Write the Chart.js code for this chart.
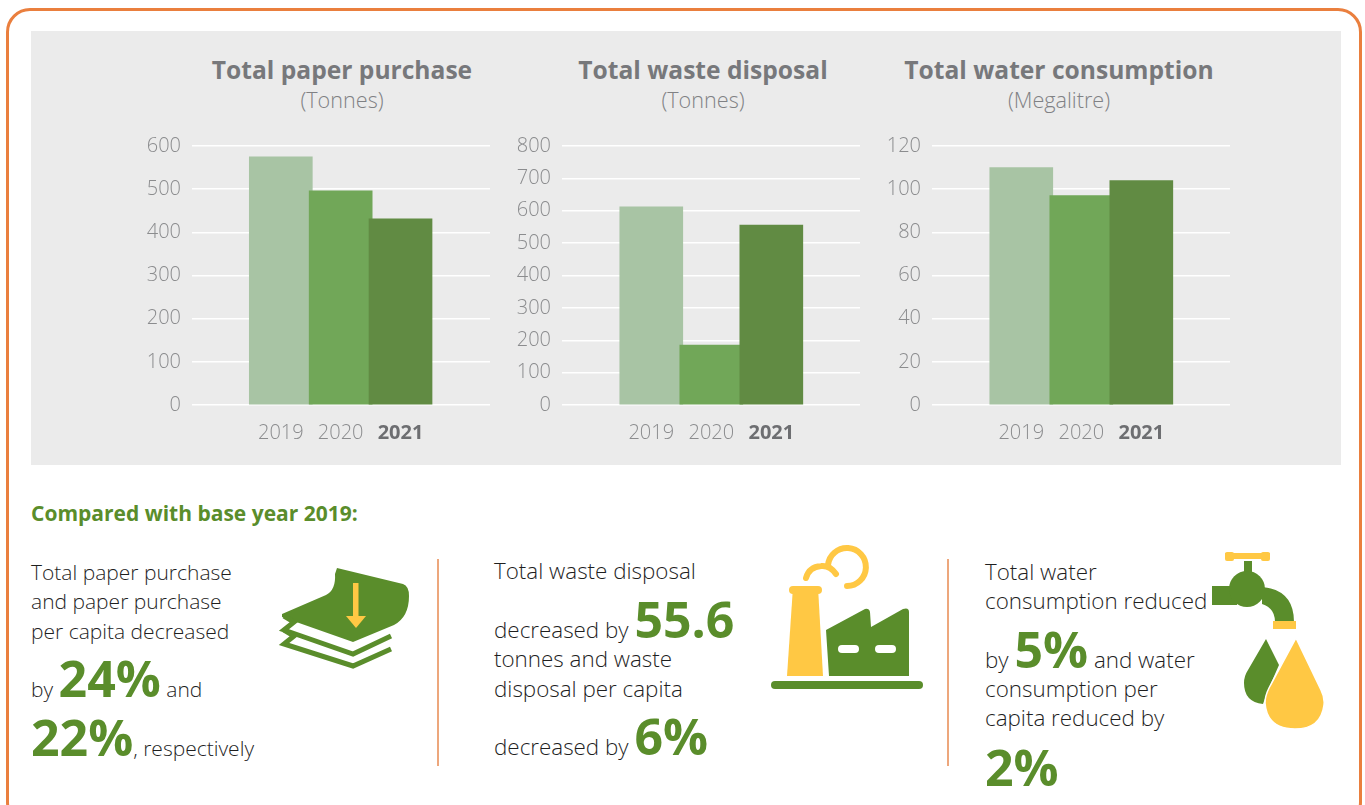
<!DOCTYPE html>
<html>
<head>
<meta charset="utf-8">
<script src="https://cdn.jsdelivr.net/npm/chart.js@4"></script>
<style>
  html, body { margin: 0; padding: 0; background: #fff; }
  body { position: relative; width: 1365px; height: 805px; overflow: hidden; font-family: "Open Sans", sans-serif; color: #1f1f1f; }
  .frame { position: absolute; left: 6px; top: 8px; width: 1350px; height: 812px; border: 3px solid #ea7f3e; border-radius: 24px; }
  .panel { position: absolute; left: 31px; top: 31px; width: 1310px; height: 434px; background: #ebebeb; }
  .chart-box { position: absolute; top: 120px; width: 390px; height: 335px; }
  .title { position: absolute; text-align: center; color: #77787b; font-size: 24.6px; font-weight: 700; line-height: 30px; white-space: nowrap; }
  .unit { position: absolute; text-align: center; color: #808184; font-size: 21.6px; font-weight: 300; line-height: 26px; white-space: nowrap; }
  .note { position: absolute; font-size: 21px; font-weight: 300; white-space: nowrap; line-height: 28px; }
  .wide { font-size: 22.4px; }
  .note b { color: #5a8d2b; font-size: 50px; font-weight: 700; line-height: 0; }
  .base { position: absolute; left: 31px; top: 499px; color: #5a8d2b; font-size: 21px; font-weight: 700; white-space: nowrap; }
  .rule { position: absolute; top: 559px; width: 1.5px; height: 207px; background: #eda77c; }
  svg { position: absolute; overflow: visible; }
</style>
</head>
<body>
<div class="frame"></div>
<div class="panel"></div>

<div class="title" style="left:142px;width:400px;top:55px">Total paper purchase</div>
<div class="unit" style="left:142px;width:400px;top:87px">(Tonnes)</div>
<div class="title" style="left:503px;width:400px;top:55px">Total waste disposal</div>
<div class="unit" style="left:503px;width:400px;top:87px">(Tonnes)</div>
<div class="title" style="left:859px;width:400px;top:55px">Total water consumption</div>
<div class="unit" style="left:859px;width:400px;top:87px">(Megalitre)</div>

<div class="chart-box" style="left:120px"><canvas id="paperChart"></canvas></div>
<div class="chart-box" style="left:490px"><canvas id="wasteChart"></canvas></div>
<div class="chart-box" style="left:860px"><canvas id="waterChart"></canvas></div>

<div class="base">Compared with base year 2019:</div>

<div class="note" style="left:31px;top:558px">Total paper purchase</div>
<div class="note" style="left:31px;top:587px">and paper purchase</div>
<div class="note" style="left:31px;top:617px">per capita decreased</div>
<div class="note" style="left:31px;top:675px">by <b>24%</b> and</div>
<div class="note" style="left:31px;top:734px"><b>22%</b>, respectively</div>

<div class="rule" style="left:437px"></div>

<div class="note wide" style="left:494px;top:557px">Total waste disposal</div>
<div class="note wide" style="left:494px;top:616px">decreased by <b>55.6</b></div>
<div class="note wide" style="left:494px;top:645px">tonnes and waste</div>
<div class="note wide" style="left:494px;top:675px">disposal per capita</div>
<div class="note wide" style="left:494px;top:733px">decreased by <b>6%</b></div>

<div class="rule" style="left:947px"></div>

<div class="note wide" style="left:985px;top:558px">Total water</div>
<div class="note wide" style="left:985px;top:587px">consumption reduced</div>
<div class="note wide" style="left:985px;top:646px">by <b>5%</b> and water</div>
<div class="note wide" style="left:985px;top:675px">consumption per</div>
<div class="note wide" style="left:985px;top:704px">capita reduced by</div>
<div class="note wide" style="left:985px;top:764px"><b>2%</b></div>

<svg style="left:0;top:0" width="1365" height="805">
  <!-- paper icon -->
  <path d="M337 568 L403 584 Q409 586 409 596 Q409 617 394 625 L353 642 L282 617 L282 614 L326 595 Q336 590 335 574 Z" fill="#5a8d2b"/>
  <polyline points="284,616 294,622 284,630 353,654 391,636" fill="none" stroke="#5a8d2b" stroke-width="5"/>
  <polyline points="284,630 294,636 284,644 353,666 391,649" fill="none" stroke="#5a8d2b" stroke-width="5"/>
  <rect x="353" y="583" width="5.5" height="34" fill="#ffc844"/>
  <path d="M346 616 L366 616 L356 628 Z" fill="#ffc844"/>

  <!-- factory icon -->
  <path d="M793 587 H818 L823 676 H787 Z" fill="#ffc844"/>
  <rect x="789" y="586" width="33" height="8" rx="4" fill="#ffc844"/>
  <path d="M806 578 Q809 567 821 566 Q830 565 836 574" fill="none" stroke="#ffc844" stroke-width="6" stroke-linecap="round"/>
  <path d="M828 565 A19 19 0 1 1 847 586" fill="none" stroke="#ffc844" stroke-width="6" stroke-linecap="round"/>
  <path d="M826 630 L865 609 Q869 608 870 612 L871 627 L903 609 Q909 607 909 612 V676 H829 Z" fill="#5a8d2b"/>
  <rect x="838" y="645" width="21" height="8" rx="4" fill="#fff"/>
  <rect x="875" y="645" width="21" height="8" rx="4" fill="#fff"/>
  <rect x="771" y="681" width="152" height="8" rx="4" fill="#5a8d2b"/>

  <!-- tap icon -->
  <rect x="1244" y="561" width="8" height="22" fill="#5a8d2b"/>
  <rect x="1225" y="553" width="45" height="6" fill="#ffc844"/>
  <rect x="1225" y="552" width="9" height="9" rx="2" fill="#ffc844"/>
  <rect x="1261" y="552" width="9" height="9" rx="2" fill="#ffc844"/>
  <rect x="1212" y="586" width="25" height="19" fill="#5a8d2b"/>
  <circle cx="1247" cy="589" r="18" fill="#5a8d2b"/>
  <path d="M1262 587 Q1294 590 1294 622 H1275 Q1275 608 1262 604 Z" fill="#5a8d2b"/>
  <rect x="1273" y="621" width="23" height="8" fill="#ffc844"/>
  <path d="M1266 639 L1279 665 L1268 690 L1263 704 Q1244 702 1244 683 Q1244 676 1248 670 Z" fill="#5a8d2b"/>
  <path d="M1296 638 L1321 690 Q1325 698 1324 705 Q1321 729 1295 729 Q1267 729 1265 703 Q1265 696 1269 688 Z" fill="#ffc844" stroke="#fff" stroke-width="1.5"/>
</svg>

<script>
// values
const years = [2019, 2020, 2021];
const paperValues = [575, 496, 431];
const wasteValues = [612, 185, 556];
const waterValues = [110, 97, 104];
const paperTicks = [0, 100, 200, 300, 400, 500, 600];
const wasteTicks = [0, 100, 200, 300, 400, 500, 600, 700, 800];
const waterTicks = [0, 20, 40, 60, 80, 100, 120];
const barColors = ["#a8c4a4", "#71a758", "#618b43"];

const gray = "#8b8c8e";

function isBoldYear(c) {
  return c.tick && c.tick.value === 2021;
}

// Bars are not spread evenly across the gridlines, so x is linear with its own limits
function makeChart(id, values, yTicks, xMin, xMax) {
  const canvas = document.getElementById(id);
  canvas.width = 390;
  canvas.height = 335;
  return new Chart(canvas.getContext("2d"), {
    type: "bar",
    data: {
      datasets: [
        {
          data: years.map((y, i) => ({ x: y, y: values[i] })),
          backgroundColor: barColors,
          barThickness: 63,
          borderWidth: 0,
        },
      ],
    },
    options: {
      responsive: false,
      animation: false,
      layout: { padding: { left: 0, right: 20, top: 26, bottom: 0 } },
      plugins: { legend: { display: false }, tooltip: { enabled: false } },
      scales: {
        x: {
          type: "linear",
          min: xMin,
          max: xMax,
          afterBuildTicks: (axis) => {
            axis.ticks = years.map((y) => ({ value: y }));
          },
          grid: { display: false },
          border: { display: false },
          ticks: {
            autoSkip: false,
            maxRotation: 0,
            padding: 8,
            callback: (v) => String(v),
            color: (c) => (isBoldYear(c) ? "#6d6e71" : gray),
            font: (c) => ({
              family: "Open Sans",
              size: 20,
              weight: isBoldYear(c) ? "700" : "300",
            }),
          },
          afterFit: (axis) => {
            axis.height = 50;
          },
        },
        y: {
          min: yTicks[0],
          max: yTicks[yTicks.length - 1],
          afterBuildTicks: (axis) => {
            axis.ticks = yTicks.map((v) => ({ value: v }));
          },
          grid: { color: "#ffffff", lineWidth: 1.5, drawTicks: false },
          border: { display: false },
          ticks: {
            padding: 11,
            color: gray,
            font: { family: "Open Sans", size: 20, weight: "300" },
          },
          afterFit: (axis) => {
            axis.width = 72;
          },
        },
      },
    },
  });
}

makeChart("paperChart", paperValues, paperTicks, 2018.346, 2021.665);
makeChart("wasteChart", wasteValues, wasteTicks, 2018.34, 2021.65);
makeChart("waterChart", waterValues, waterTicks, 2018.34, 2021.65);
</script>
</body>
</html>
